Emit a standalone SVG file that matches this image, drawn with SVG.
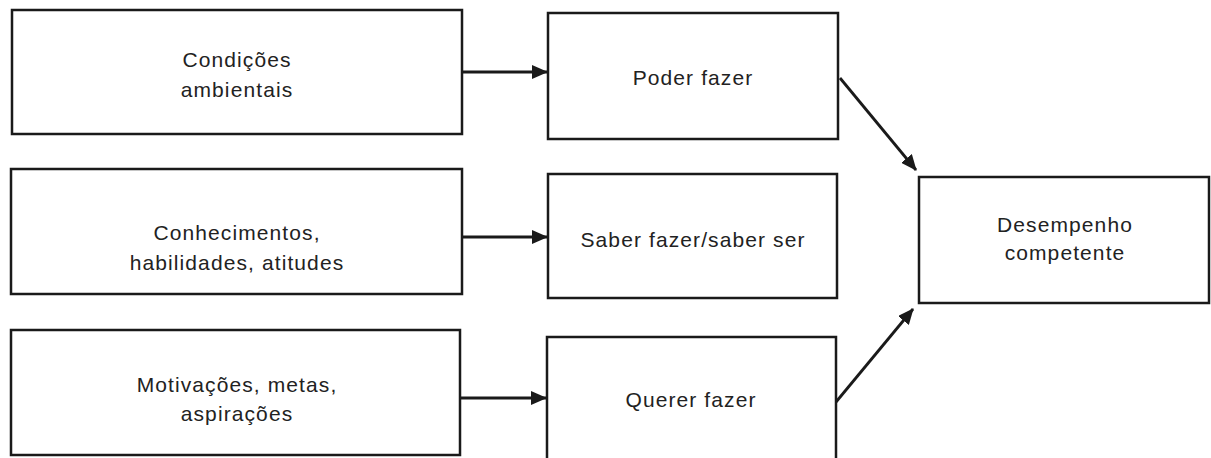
<svg xmlns="http://www.w3.org/2000/svg" width="1211" height="458" viewBox="0 0 1211 458">
<style>
.box{fill:#fff;stroke:#1a1a1a;stroke-width:2.5}
.lbl{font-family:"Liberation Sans",Arial,sans-serif;font-size:21px;letter-spacing:1.1px;fill:#222;text-anchor:middle}
.edge{stroke:#1a1a1a;stroke-width:2.8;fill:none;marker-end:url(#ah)}
</style>
<defs>
<marker id="ah" markerWidth="16" markerHeight="14" refX="15" refY="7" orient="auto" markerUnits="userSpaceOnUse">
<path d="M0,0 L16,7 L0,14 Z" fill="#1a1a1a"/>
</marker>
</defs>
<rect width="1211" height="458" fill="#fff"/>
<g id="n-condicoes"><rect class="box" x="12" y="10" width="450" height="124"/><text class="lbl" x="237" y="67">Condições</text><text class="lbl" x="237" y="97">ambientais</text></g>
<g id="n-conhecimentos"><rect class="box" x="11" y="169" width="451" height="125"/><text class="lbl" x="237" y="240">Conhecimentos,</text><text class="lbl" x="237" y="270">habilidades, atitudes</text></g>
<g id="n-motivacoes"><rect class="box" x="11" y="330" width="449" height="125"/><text class="lbl" x="237" y="392">Motivações, metas,</text><text class="lbl" x="237" y="421">aspirações</text></g>
<g id="n-poder"><rect class="box" x="548" y="13" width="290" height="126"/><text class="lbl" x="693" y="85">Poder fazer</text></g>
<g id="n-saber"><rect class="box" x="548" y="174" width="289" height="124"/><text class="lbl" x="693" y="247">Saber fazer/saber ser</text></g>
<g id="n-querer"><rect class="box" x="547" y="337" width="289" height="130"/><text class="lbl" x="691" y="407">Querer fazer</text></g>
<g id="n-desempenho"><rect class="box" x="919" y="177" width="290" height="126"/><text class="lbl" x="1065" y="232">Desempenho</text><text class="lbl" x="1065" y="260">competente</text></g>
<g id="connectors">
<line class="edge" x1="462" y1="72" x2="547" y2="72"/>
<line class="edge" x1="462" y1="237" x2="547" y2="237"/>
<line class="edge" x1="460" y1="398" x2="546" y2="398"/>
<line class="edge" x1="840" y1="78" x2="916" y2="170"/>
<line class="edge" x1="836" y1="402" x2="913" y2="309"/>
</g>
</svg>
